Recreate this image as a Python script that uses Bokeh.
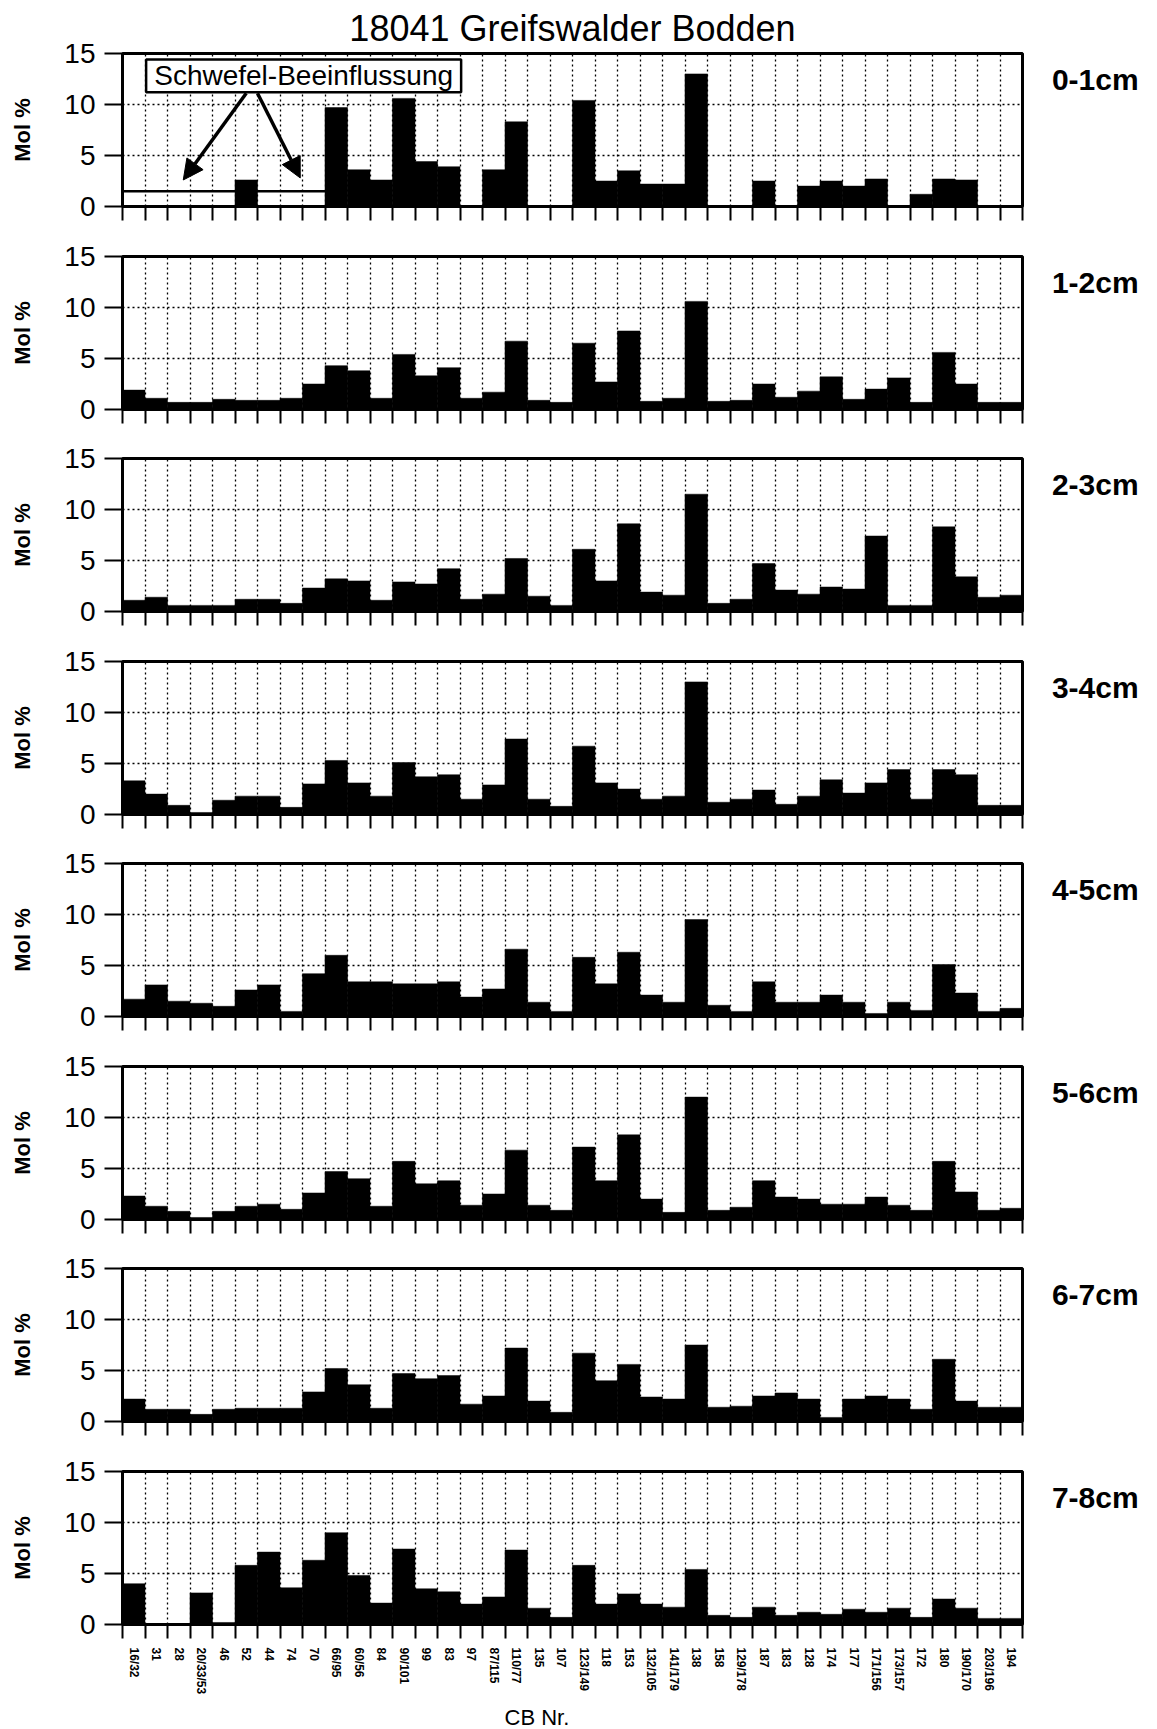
from bokeh.plotting import figure
from bokeh.models import Range1d, FixedTicker, Label, BoxAnnotation, Arrow, NormalHead, Title
from bokeh.layouts import column, row
from bokeh.core.properties import value
from bokeh.embed import file_html
from bokeh.resources import INLINE

# ---------------- data ----------------
cb_labels = ["16/32", "31", "28", "20/33/53", "46", "52", "44", "74", "70", "66/95",
             "60/56", "84", "90/101", "99", "83", "97", "87/115", "110/77", "135", "107",
             "123/149", "118", "153", "132/105", "141/179", "138", "158", "129/178", "187", "183",
             "128", "174", "177", "171/156", "173/157", "172", "180", "190/170", "203/196", "194"]

depths = ["0-1cm", "1-2cm", "2-3cm", "3-4cm", "4-5cm", "5-6cm", "6-7cm", "7-8cm"]

v_0_1 = [0, 0, 0, 0, 0, 2.6, 0, 0, 0, 9.7,
         3.6, 2.6, 10.6, 4.4, 3.9, 0, 3.6, 8.3, 0, 0,
         10.4, 2.5, 3.5, 2.2, 2.2, 13.0, 0, 0, 2.5, 0,
         2.0, 2.5, 2.0, 2.7, 0, 1.2, 2.7, 2.6, 0, 0]
v_1_2 = [1.9, 1.1, 0.7, 0.7, 1.0, 0.9, 0.9, 1.1, 2.5, 4.3,
         3.8, 1.1, 5.4, 3.3, 4.1, 1.1, 1.7, 6.7, 0.9, 0.7,
         6.5, 2.7, 7.7, 0.8, 1.1, 10.6, 0.8, 0.9, 2.5, 1.2,
         1.8, 3.2, 1.0, 2.0, 3.1, 0.7, 5.6, 2.5, 0.7, 0.7]
v_2_3 = [1.1, 1.4, 0.6, 0.6, 0.6, 1.2, 1.2, 0.8, 2.3, 3.2,
         3.0, 1.1, 2.9, 2.7, 4.2, 1.2, 1.7, 5.2, 1.5, 0.6,
         6.1, 3.0, 8.6, 1.9, 1.6, 11.5, 0.8, 1.2, 4.7, 2.1,
         1.7, 2.4, 2.2, 7.4, 0.6, 0.6, 8.3, 3.4, 1.4, 1.6]
v_3_4 = [3.3, 2.0, 0.9, 0.2, 1.4, 1.8, 1.8, 0.7, 3.0, 5.3,
         3.1, 1.8, 5.1, 3.7, 3.9, 1.5, 2.9, 7.4, 1.5, 0.8,
         6.7, 3.1, 2.5, 1.5, 1.8, 13.0, 1.2, 1.5, 2.4, 1.0,
         1.8, 3.4, 2.1, 3.1, 4.4, 1.5, 4.4, 3.9, 0.9, 0.9]
v_4_5 = [1.7, 3.1, 1.5, 1.3, 1.0, 2.6, 3.1, 0.5, 4.2, 6.0,
         3.4, 3.4, 3.2, 3.2, 3.4, 1.9, 2.7, 6.6, 1.4, 0.5,
         5.8, 3.2, 6.3, 2.1, 1.4, 9.5, 1.1, 0.5, 3.4, 1.4,
         1.4, 2.1, 1.4, 0.3, 1.4, 0.6, 5.1, 2.3, 0.5, 0.8]
v_5_6 = [2.3, 1.3, 0.8, 0.2, 0.8, 1.3, 1.5, 1.0, 2.6, 4.7,
         4.0, 1.3, 5.7, 3.5, 3.8, 1.4, 2.5, 6.8, 1.4, 0.9,
         7.1, 3.8, 8.3, 2.0, 0.7, 12.0, 0.9, 1.2, 3.8, 2.2,
         2.0, 1.5, 1.5, 2.2, 1.4, 0.9, 5.7, 2.7, 0.9, 1.1]
v_6_7 = [2.2, 1.2, 1.2, 0.7, 1.2, 1.3, 1.3, 1.3, 2.9, 5.2,
         3.6, 1.3, 4.7, 4.2, 4.5, 1.7, 2.5, 7.2, 2.0, 0.9,
         6.7, 4.0, 5.6, 2.4, 2.2, 7.5, 1.4, 1.5, 2.5, 2.8,
         2.2, 0.4, 2.2, 2.5, 2.2, 1.2, 6.1, 2.0, 1.4, 1.4]
v_7_8 = [4.0, 0, 0, 3.1, 0.2, 5.8, 7.1, 3.6, 6.3, 9.0,
         4.8, 2.1, 7.4, 3.5, 3.2, 2.0, 2.7, 7.3, 1.6, 0.7,
         5.8, 2.0, 3.0, 2.0, 1.7, 5.4, 0.9, 0.7, 1.7, 0.9,
         1.2, 1.0, 1.5, 1.2, 1.6, 0.7, 2.5, 1.6, 0.6, 0.6]

series = [v_0_1, v_1_2, v_2_3, v_3_4, v_4_5, v_5_6, v_6_7, v_7_8]
y_ticks = [0, 5, 10, 15]

TITLE = "18041 Greifswalder Bodden"
Y_LABEL = "Mol %"
X_LABEL = "CB Nr."
NOTE = "Schwefel-Beeinflussung"

# annotation geometry (panel 0-1cm), in data units
NOTE_BOX = dict(left=1.05, right=15.05, bottom=11.2, top=14.4)
ARROWS = [(5.5, 11.1, 2.7, 2.6), (6.0, 11.1, 7.9, 2.8)]
SULFUR_LINE_X = [0, 9]
SULFUR_LINE_Y = [1.5, 1.5]
DEPTH_LABEL_POS = (0.2, 12.5)

# ---------------- style ----------------
FONT = "Liberation Sans"
N = len(cb_labels)
centers = [i + 0.5 for i in range(N)]
bounds = list(range(N + 1))
FRAME_W, FRAME_H = 900, 153
LEFT = 122          # the page itself has no margin, so it is included here
LAB_W = 132

rows = []
for k, (depth, vals) in enumerate(zip(depths, series)):
    first = k == 0
    last = k == len(depths) - 1
    top_b = 52 if first else 22
    bot_b = 98 if last else (28 if k % 2 == 0 else 27)
    p = figure(frame_width=FRAME_W, frame_height=FRAME_H,
               x_range=Range1d(0, N), y_range=Range1d(0, 15),
               output_backend="svg", toolbar_location=None, tools="",
               min_border_left=LEFT, min_border_right=3,
               min_border_top=top_b, min_border_bottom=bot_b)
    p.background_fill_color = "white"
    p.border_fill_color = "white"
    p.outline_line_color = "black"
    p.outline_line_width = 3

    # grid
    p.xgrid.ticker = FixedTicker(ticks=bounds[1:-1])
    p.ygrid.ticker = FixedTicker(ticks=[5, 10])
    for g in (p.xgrid, p.ygrid):
        g.grid_line_color = "black"
        g.grid_line_dash = "2 3"
        g.grid_line_width = 1.3

    # bars
    p.vbar(x=centers, top=vals, width=1.0, bottom=0,
           fill_color="black", line_color="black", line_width=0.5)

    # y axis
    ya = p.yaxis[0]
    ya.ticker = FixedTicker(ticks=y_ticks)
    ya.major_tick_out = 18
    ya.major_tick_in = 0
    ya.major_tick_line_width = 2
    ya.major_tick_line_color = "black"
    ya.minor_tick_line_color = None
    ya.axis_line_width = 2
    ya.axis_line_color = "black"
    ya.major_label_text_font = FONT
    ya.major_label_text_font_size = "28px"
    ya.major_label_text_color = "black"
    ya.major_label_standoff = 9
    ya.axis_label = Y_LABEL
    ya.axis_label_text_font = FONT
    ya.axis_label_text_font_style = "bold"
    ya.axis_label_text_font_size = "22px"
    ya.axis_label_text_color = "black"
    ya.axis_label_standoff = 26

    # x axis
    xa = p.xaxis[0]
    xa.axis_line_width = 2
    xa.axis_line_color = "black"
    xa.minor_tick_out = 14
    xa.minor_tick_in = 0
    xa.minor_tick_line_width = 2
    xa.minor_tick_line_color = "black"
    xa.major_tick_line_color = None
    xa.major_tick_out = 0
    xa.major_tick_in = 0
    if last:
        xa.ticker = FixedTicker(ticks=centers, minor_ticks=bounds)
        xa.major_label_overrides = {c: lab for c, lab in zip(centers, cb_labels)}
        xa.major_label_orientation = "vertical"
        xa.major_label_text_font = FONT
        xa.major_label_text_font_style = "bold"
        xa.major_label_text_font_size = "12px"
        xa.major_label_text_color = "black"
        xa.major_label_standoff = 9
        p.add_layout(Title(text=X_LABEL, align="left", offset=382,
                           text_font=FONT, text_font_size="22px",
                           text_font_style="normal", text_color="black",
                           standoff=10), "below")
    else:
        xa.ticker = FixedTicker(ticks=[], minor_ticks=bounds)
        xa.major_label_text_font_size = "0px"

    if first:
        p.title.text = TITLE
        p.title.align = "center"
        p.title.offset = 6
        p.title.text_font = FONT
        p.title.text_font_size = "36px"
        p.title.text_font_style = "normal"
        p.title.text_color = "black"
        p.title.standoff = 10
        p.line(x=SULFUR_LINE_X, y=SULFUR_LINE_Y, line_color="black", line_width=2.5)
        p.add_layout(BoxAnnotation(fill_color="white", fill_alpha=1.0,
                                   line_color="black", line_alpha=1.0, line_width=2.5,
                                   level="overlay", **NOTE_BOX))
        p.add_layout(Label(x=(NOTE_BOX["left"] + NOTE_BOX["right"]) / 2,
                           y=(NOTE_BOX["bottom"] + NOTE_BOX["top"]) / 2,
                           text=NOTE, text_font=FONT, text_font_size="28px",
                           text_align="center", text_baseline="middle",
                           text_color="black", level="overlay"))
        for xs, ys, xe, ye in ARROWS:
            p.add_layout(Arrow(end=NormalHead(size=20, fill_color="black",
                                              line_color="black"),
                               x_start=xs, y_start=ys, x_end=xe, y_end=ye,
                               line_width=3.5, line_color="black"))

    # side figure holding the depth label
    lab = figure(frame_width=LAB_W, frame_height=FRAME_H,
                 x_range=Range1d(0, 1), y_range=Range1d(0, 15),
                 output_backend="svg", toolbar_location=None, tools="",
                 min_border_left=0, min_border_right=0,
                 min_border_top=top_b, min_border_bottom=bot_b)
    lab.axis.visible = False
    lab.grid.visible = False
    lab.outline_line_color = None
    lab.background_fill_color = "white"
    lab.border_fill_color = "white"
    lab.text(x=[DEPTH_LABEL_POS[0]], y=[DEPTH_LABEL_POS[1]], text=[depth],
             text_font=value(FONT), text_font_style="bold", text_font_size="30px",
             text_align="left", text_baseline="middle", text_color="black")
    rows.append(row(p, lab, spacing=0))

layout = column(*rows, spacing=0)
open("out.html", "w").write(file_html(layout, INLINE))
